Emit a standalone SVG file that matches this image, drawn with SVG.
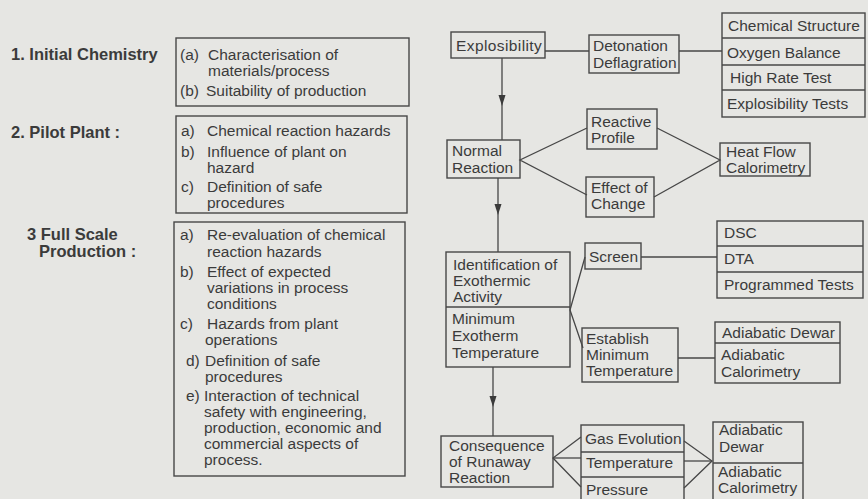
<svg xmlns="http://www.w3.org/2000/svg" width="868" height="499" viewBox="0 0 868 499">
<defs>
<style>
text{font-family:"Liberation Sans",Arial,Helvetica,sans-serif;font-size:15.5px;fill:#3b3b3b}
.b{font-weight:bold;font-size:16.5px}
.s{font-size:15.5px}
rect,line,polyline{fill:none;stroke:#474747;stroke-width:1.4}
.c line,.c polyline{stroke-width:1.3}
.ah{fill:#3b3b3b;stroke:none}
</style>
</defs>
<rect x="0" y="0" width="868" height="499" style="fill:#e6e6e3;stroke:none"/>

<g id="stage1">
<text class="b" x="11" y="60">1. Initial Chemistry</text>
<rect x="176" y="38" width="233" height="68"/>
<text x="180" y="60">(a)</text><text x="208" y="60">Characterisation of</text>
<text x="208" y="76">materials/process</text>
<text x="180" y="96">(b)</text><text x="206" y="96">Suitability of production</text>
</g>

<g id="stage2">
<text class="b" x="11" y="138">2. Pilot Plant :</text>
<rect x="176" y="116" width="231" height="97"/>
<text x="181" y="136">a)</text><text x="207" y="136">Chemical reaction hazards</text>
<text x="181" y="157">b)</text><text x="207" y="157">Influence of plant on</text>
<text x="207" y="173">hazard</text>
<text x="181" y="192">c)</text><text x="207" y="192">Definition of safe</text>
<text x="207" y="208">procedures</text>
</g>

<g id="stage3">
<text class="b" x="27" y="240">3 Full Scale</text>
<text class="b" x="39" y="257">Production :</text>
<rect x="174" y="222" width="231" height="254"/>
<text x="180" y="240">a)</text><text x="207" y="240">Re-evaluation of chemical</text>
<text x="207" y="257">reaction hazards</text>
<text x="180" y="277">b)</text><text x="207" y="277">Effect of expected</text>
<text x="207" y="293">variations in process</text>
<text x="207" y="309">conditions</text>
<text x="180" y="329">c)</text><text x="207" y="329">Hazards from plant</text>
<text x="205" y="345">operations</text>
<text x="186" y="366">d)</text><text x="205" y="366">Definition of safe</text>
<text x="205" y="382">procedures</text>
<text x="186" y="401">e)</text><text x="204" y="401">Interaction of technical</text>
<text x="204" y="417">safety with engineering,</text>
<text x="204" y="433">production, economic and</text>
<text x="204" y="449">commercial aspects of</text>
<text x="204" y="465">process.</text>
</g>

<g id="connectors" class="c">
<line x1="545" y1="51" x2="589" y2="51"/>
<line x1="679" y1="51" x2="722" y2="51"/>
<line x1="502" y1="58" x2="502" y2="140"/>
<polygon class="ah" points="498.5,95 505.5,95 502,106"/>
<polyline points="587,128 520,160 587,195"/>
<polyline points="657,128 720,160 654,197"/>
<line x1="498" y1="178" x2="498" y2="252"/>
<polygon class="ah" points="494.5,204 501.5,204 498,215"/>
<polyline points="585,257 570,310 583,348"/>
<line x1="641" y1="257" x2="717" y2="257"/>
<line x1="678" y1="358" x2="715" y2="358"/>
<line x1="493" y1="367" x2="493" y2="436"/>
<polygon class="ah" points="489.5,396 496.5,396 493,407"/>
<polyline points="581,437 553,458 581,487"/>
<line x1="553" y1="458" x2="581" y2="458"/>
<polyline points="684,441 712,461 684,488"/>
<line x1="684" y1="461" x2="712" y2="461"/>
</g>

<g id="explosibility">
<rect x="451" y="32" width="94" height="26"/>
<text x="456" y="51" letter-spacing="0.4">Explosibility</text>
</g>

<g id="detonation">
<rect x="589" y="35" width="90" height="38"/>
<text x="593" y="51">Detonation</text>
<text x="593" y="68">Deflagration</text>
</g>

<g id="explosibility-tests">
<rect x="722" y="13" width="143" height="104"/>
<line x1="722" y1="38" x2="865" y2="38"/>
<line x1="722" y1="65" x2="865" y2="65"/>
<line x1="722" y1="90" x2="865" y2="90"/>
<text class="s" x="728" y="31">Chemical Structure</text>
<text class="s" x="727" y="58">Oxygen Balance</text>
<text class="s" x="730" y="83">High Rate Test</text>
<text class="s" x="727" y="109">Explosibility Tests</text>
</g>

<g id="normal-reaction">
<rect x="447" y="140" width="73" height="38"/>
<text x="452" y="156">Normal</text>
<text x="452" y="173">Reaction</text>
</g>

<g id="reactive-profile">
<rect x="587" y="109" width="70" height="40"/>
<text x="591" y="127">Reactive</text>
<text x="591" y="143">Profile</text>
</g>

<g id="effect-of-change">
<rect x="586" y="177" width="68" height="40"/>
<text x="591" y="193">Effect of</text>
<text x="591" y="209">Change</text>
</g>

<g id="heat-flow">
<rect x="720" y="143" width="90" height="33"/>
<text x="726" y="157">Heat Flow</text>
<text x="726" y="173">Calorimetry</text>
</g>

<g id="identification">
<rect x="446" y="252" width="124" height="115"/>
<line x1="446" y1="307" x2="570" y2="307"/>
<text x="453" y="270">Identification of</text>
<text x="453" y="286">Exothermic</text>
<text x="453" y="302">Activity</text>
<text x="452" y="324">Minimum</text>
<text x="452" y="341">Exotherm</text>
<text x="452" y="358">Temperature</text>
</g>

<g id="screen">
<rect x="585" y="243" width="56" height="26"/>
<text x="589" y="262">Screen</text>
</g>

<g id="screen-tests">
<rect x="717" y="221" width="146" height="77"/>
<line x1="717" y1="246" x2="863" y2="246"/>
<line x1="717" y1="272" x2="863" y2="272"/>
<text class="s" x="724" y="238">DSC</text>
<text class="s" x="724" y="264">DTA</text>
<text class="s" x="724" y="290">Programmed Tests</text>
</g>

<g id="establish">
<rect x="582" y="328" width="96" height="54"/>
<text x="586" y="344">Establish</text>
<text x="586" y="360">Minimum</text>
<text x="586" y="376">Temperature</text>
</g>

<g id="adiabatic-tests-1">
<rect x="715" y="322" width="125" height="61"/>
<line x1="715" y1="343" x2="840" y2="343"/>
<text class="s" x="722" y="338">Adiabatic Dewar</text>
<text class="s" x="721" y="360">Adiabatic</text>
<text class="s" x="721" y="377">Calorimetry</text>
</g>

<g id="consequence">
<rect x="441" y="436" width="112" height="51"/>
<text x="449" y="451">Consequence</text>
<text x="449" y="467">of Runaway</text>
<text x="449" y="483">Reaction</text>
</g>

<g id="runaway-measures">
<rect x="581" y="425" width="103" height="80"/>
<line x1="581" y1="452" x2="684" y2="452"/>
<line x1="581" y1="477" x2="684" y2="477"/>
<text x="585" y="444">Gas Evolution</text>
<text x="586" y="468">Temperature</text>
<text x="586" y="495">Pressure</text>
</g>

<g id="adiabatic-tests-2">
<rect x="713" y="422" width="90" height="83"/>
<line x1="713" y1="463" x2="803" y2="463"/>
<text class="s" x="719" y="435">Adiabatic</text>
<text class="s" x="719" y="452">Dewar</text>
<text class="s" x="718" y="477">Adiabatic</text>
<text class="s" x="718" y="493">Calorimetry</text>
</g>
</svg>
